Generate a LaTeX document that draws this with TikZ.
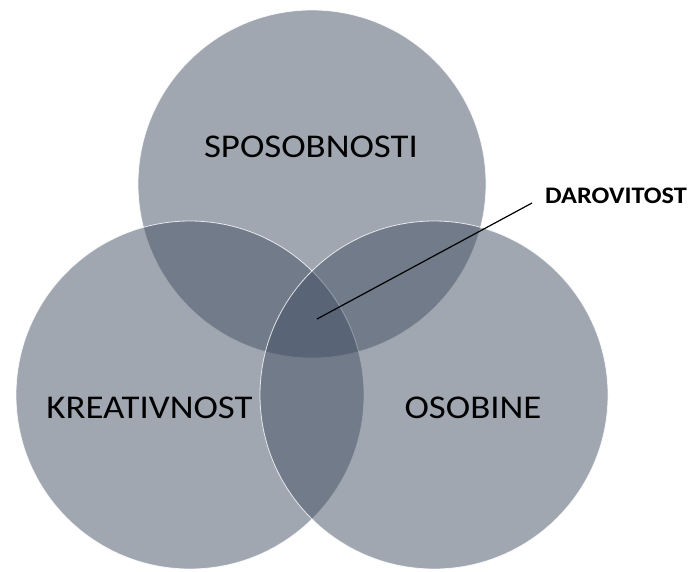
\documentclass[tikz,border=0pt]{standalone}
\usepackage{fontspec}
\setmainfont{Carlito}
\definecolor{slate}{RGB}{67,81,101}
\begin{document}
\begin{tikzpicture}[x=1pt,y=-1pt,
  venn/.style={fill=slate,fill opacity=0.5,draw=white,draw opacity=0.8,line width=0.8pt},
  lbl/.style={inner sep=0pt,anchor=base,text=black,font=\fontsize{33.2}{38}\selectfont},
  lblb/.style={inner sep=0pt,anchor=base west,text=black,font=\fontsize{23.7}{28}\selectfont\bfseries}]
\useasboundingbox (0,0) rectangle (692,571);
\fill[white] (0,0) rectangle (692,571);
\path[venn] (312,184) circle[radius=174pt];
\path[venn] (190,395) circle[radius=174pt];
\path[venn] (434,395) circle[radius=174pt];
\node[lbl] (sp) at (311,157) {\scalebox{1.11}[1]{SPOSOBNOSTI}};
\node[lbl] (kr) at (149.5,418) {\scalebox{1.11}[1]{KREATIVNOST}};
\node[lbl] (os) at (473,418) {\scalebox{1.11}[1]{OSOBINE}};
\node[lblb] (da) at (545,203) {\scalebox{1.11}[1]{DAROVITOST}};
\coordinate (p) at (317,319);
\coordinate (q) at (532,203);
\draw[black,line width=1.2pt] (p) -- (q);
\end{tikzpicture}
\end{document}
